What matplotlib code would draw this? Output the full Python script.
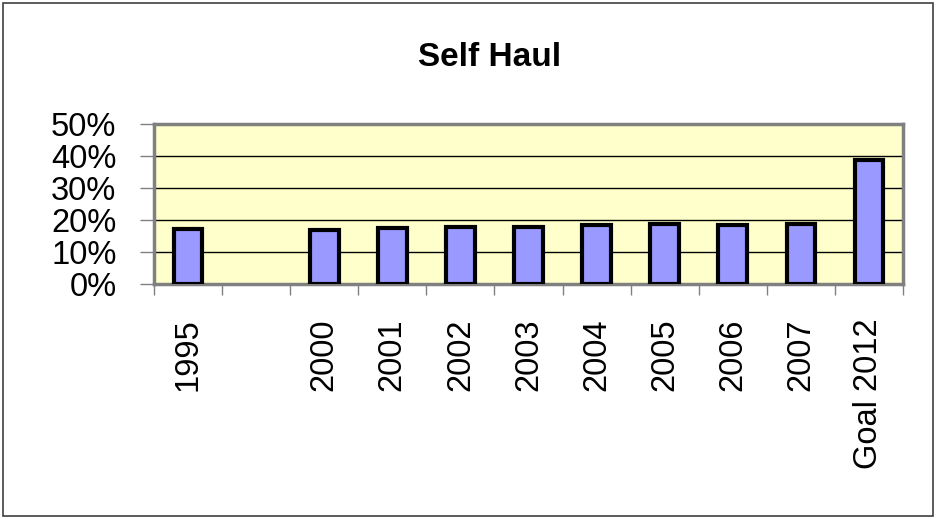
import numpy as np
import matplotlib.pyplot as plt
from matplotlib.patches import Rectangle

# Data (percent)
categories = ["1995", "", "2000", "2001", "2002", "2003", "2004", "2005", "2006", "2007", "Goal 2012"]
values = [17.2, np.nan, 16.9, 17.4, 17.9, 17.9, 18.5, 18.8, 18.4, 18.8, 38.6]
yticks = [0, 10, 20, 30, 40, 50]

plt.rcParams['font.family'] = ['Liberation Sans', 'DejaVu Sans']

fig = plt.figure(figsize=(9.36, 5.19), dpi=100)
ax = fig.add_axes([154/936, 1 - 284/519, (903 - 154)/936, 160/519])

x = np.arange(len(categories))
ax.bar(x, values, width=0.42, color='#9999FF', edgecolor='black', linewidth=3, zorder=3)

ax.set_facecolor('#FFFFCC')
ax.set_xlim(-0.5, len(categories) - 0.5)
ax.set_ylim(0, 50)

ax.set_yticks(yticks)
ax.set_yticklabels([f"{v}%" for v in yticks], fontsize=23.5)
ax.yaxis.grid(True, color='black', linewidth=1, zorder=1)
ax.tick_params(axis='y', length=10, width=1, color='#808080', pad=17)

ax.set_xticks(x)
ax.set_xticklabels(categories, rotation=90, fontsize=23.5, va='top')
ax.set_xticks(np.arange(-0.5, len(categories)), minor=True)
ax.tick_params(axis='x', which='major', length=0, pad=25)
ax.tick_params(axis='x', which='minor', length=8, width=1, color='#808080')

for s in ax.spines.values():
    s.set_color('#808080')
    s.set_linewidth(2.5)

fig.text(490/936, 1 - 57/519, "Self Haul", fontsize=24, fontweight='bold',
         ha='center', va='center')

fig.patches.append(Rectangle((3/936, 3/519), 930/936, 513/519, transform=fig.transFigure,
                             fill=False, edgecolor='#404040', linewidth=1.2))

fig.savefig('out.png', dpi=100)
